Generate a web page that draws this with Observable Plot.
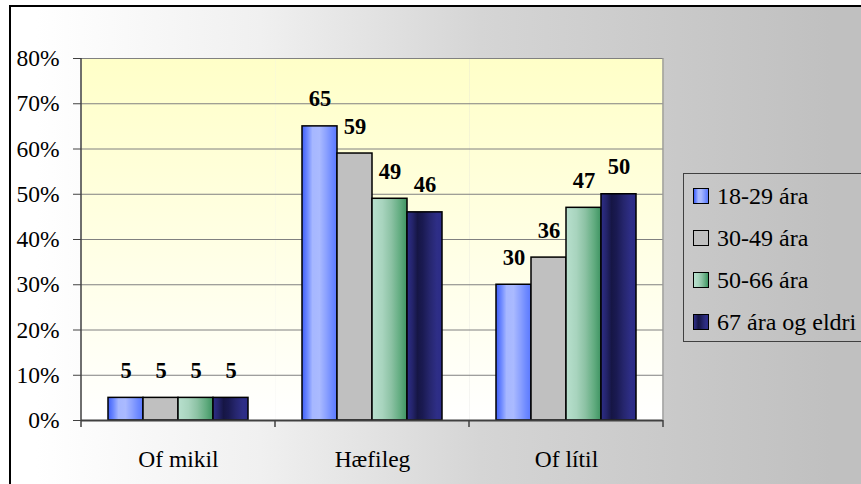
<!DOCTYPE html>
<html><head><meta charset="utf-8">
<script src="https://cdn.jsdelivr.net/npm/d3@7"></script>
<script src="https://cdn.jsdelivr.net/npm/@observablehq/plot@0.6"></script>
<style>
html,body{margin:0;padding:0;width:861px;height:484px;overflow:hidden;background:#fff;}
#bg{position:absolute;left:9px;top:5px;width:900px;height:500px;border-left:2px solid #000;border-top:2px solid #000;
  background:linear-gradient(to right,#ffffff 0px,#ffffff 25px,#f0f0f0 250px,#d5d5d5 470px,#cacaca 650px,#c0c0c0 820px);}
#chart{position:absolute;left:0;top:0;}
#legend{position:absolute;left:683px;top:173px;width:220px;height:167px;border:1px solid #404040;font-family:"Liberation Serif","Times New Roman",Times,"DejaVu Serif",serif;font-size:24px;color:#000;}
.item{position:absolute;left:9px;height:24px;display:flex;align-items:center;white-space:nowrap;}
.sw{width:14px;height:14px;border:1px solid #000;margin-right:8px;flex:none;}
</style>
</head><body>
<div id="bg"></div>
<div id="chart"></div>
<div id="legend"></div>
<script>
const categories = ["Of mikil", "Hæfileg", "Of lítil"];
const series = ["18-29 ára", "30-49 ára", "50-66 ára", "67 ára og eldri"];
const ofMikil = [5, 5, 5, 5];
const haefileg = [65, 59, 49, 46];
const ofLitil = [30, 36, 47, 50];
const yTicks = [0, 10, 20, 30, 40, 50, 60, 70, 80];

const rows = [ofMikil, haefileg, ofLitil];
const data = categories.flatMap((c, i) => series.map((s, j) => ({cat: c, ser: s, value: rows[i][j]})));

const gradStops = {
  gb: [[0,"#3f5ff8"],[0.15,"#6c88ff"],[0.3,"#a6b7ff"],[0.5,"#aabaff"],[0.7,"#8aa0ff"],[0.85,"#6f8bff"],[1,"#5a78ff"]],
  gg: [[0,"#c0c0c0"],[1,"#c0c0c0"]],
  gn: [[0,"#b8e0ce"],[0.3,"#a8d4be"],[0.55,"#8cc2a4"],[0.8,"#62ac80"],[1,"#3e9462"]],
  gd: [[0,"#2e2e88"],[0.15,"#24246c"],[0.3,"#161645"],[0.45,"#1a1a52"],[0.65,"#26266e"],[0.85,"#2e2e86"],[1,"#2c2c88"]]
};
const gradIds = ["gb", "gg", "gn", "gd"];
const serif = "'Liberation Serif', 'Times New Roman', Times, 'DejaVu Serif', serif";

const plot = Plot.plot({
  width: 861, height: 484,
  marginLeft: 80, marginRight: 198, marginTop: 58, marginBottom: 64,
  style: {background: "transparent", fontFamily: serif, fontSize: "23px", color: "#000", overflow: "visible"},
  fx: {domain: categories, padding: 0, label: null, axis: null},
  x: {domain: series, paddingInner: 0, paddingOuter: 0.75, axis: null},
  y: {domain: [0, 80], label: null},
  color: {domain: series, range: gradIds.map(id => `url(#${id})`)},
  marks: [
    Plot.frame({fill: "url(#gy)", stroke: "none"}),
    Plot.gridY(yTicks, {stroke: "#808080", strokeOpacity: 1}),
    Plot.axisY(yTicks, {tickFormat: d => d + "%", tickSize: 8, tickPadding: 14, stroke: "#404040", label: null, fontSize: 23.5, fontFamily: serif}),
    Plot.axisFx({anchor: "bottom", tickSize: 0, tickPadding: 30, label: null, fontSize: 23.5, fontFamily: serif}),
    Plot.barY(data, {fx: "cat", x: "ser", y: "value", fill: "ser", stroke: "#000", strokeWidth: 1.5}),
    Plot.text(data, {fx: "cat", x: "ser", y: "value", text: d => String(d.value), dy: -20, lineAnchor: "bottom", fontWeight: "bold", fontSize: 22.5, fontFamily: serif}),
    Plot.ruleY([0], {stroke: "#404040", strokeWidth: 2})
  ]
});

const svg = d3.select(plot);
const defs = svg.insert("defs", ":first-child");
for (const id of gradIds) {
  const g = defs.append("linearGradient").attr("id", id).attr("x1", 0).attr("x2", 1).attr("y1", 0).attr("y2", 0);
  for (const [o, c] of gradStops[id]) g.append("stop").attr("offset", o).attr("stop-color", c);
}
const gy = defs.append("linearGradient").attr("id", "gy").attr("x1", 0).attr("x2", 0).attr("y1", 0).attr("y2", 1);
gy.append("stop").attr("offset", 0).attr("stop-color", "#ffffc8");
gy.append("stop").attr("offset", 1).attr("stop-color", "#ffffff");

const fx = plot.scale("fx"), y = plot.scale("y");
const x0 = fx.apply(categories[0]);
const xEnd = fx.apply(categories[categories.length - 1]) + fx.bandwidth;
const yTop = y.apply(80), yBot = y.apply(0);
const over = svg.append("g");
over.append("line").attr("x1", xEnd).attr("x2", xEnd).attr("y1", yTop).attr("y2", yBot).attr("stroke", "#999").attr("stroke-width", 1.5);
over.append("line").attr("x1", x0).attr("x2", x0).attr("y1", yTop).attr("y2", yBot + 7).attr("stroke", "#404040").attr("stroke-width", 1.5);
for (const c of categories) {
  const xe = fx.apply(c) + fx.bandwidth;
  over.append("line").attr("x1", xe).attr("x2", xe).attr("y1", yBot).attr("y2", yBot + 7).attr("stroke", "#404040").attr("stroke-width", 1.5);
}
document.getElementById("chart").appendChild(plot);

const legend = document.getElementById("legend");
const swatchCss = id => "linear-gradient(to right," + gradStops[id].map(([o, c]) => `${c} ${o * 100}%`).join(",") + ")";
series.forEach((s, i) => {
  const item = document.createElement("div");
  item.className = "item";
  item.style.top = (10 + i * 42) + "px";
  const sw = document.createElement("div");
  sw.className = "sw";
  sw.style.background = swatchCss(gradIds[i]);
  item.appendChild(sw);
  item.appendChild(document.createTextNode(s));
  legend.appendChild(item);
});
</script>
</body></html>
